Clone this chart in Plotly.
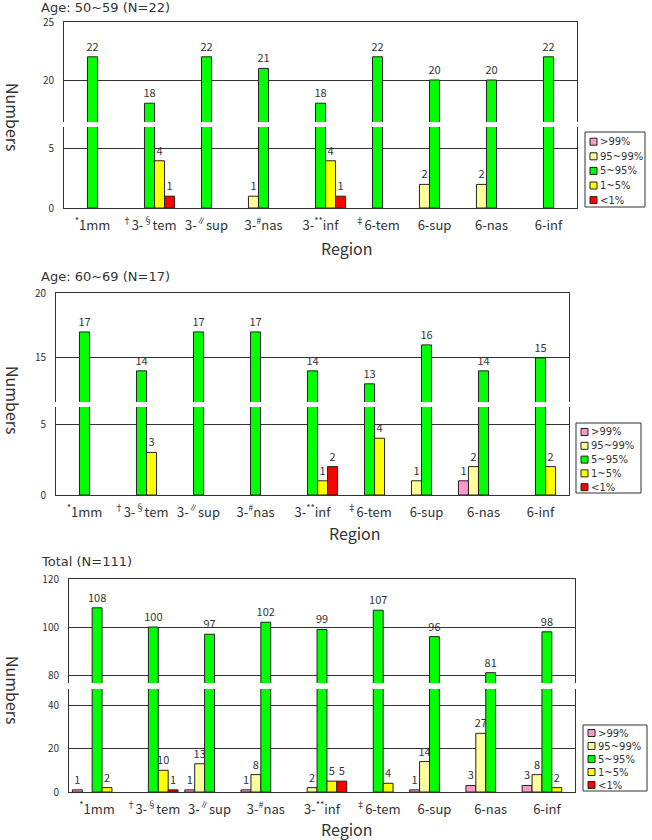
import plotly.graph_objects as go

W, H = 652, 840

# ---------------- data ----------------
categories = ["1mm", "3-tem", "3-sup", "3-nas", "3-inf", "6-tem", "6-sup", "6-nas", "6-inf"]
tick_labels = ["<sup>*</sup>1mm", "<sup>†</sup>3-<sup>§</sup>tem", "3-<sup>∥</sup>sup",
               "3-<sup>#</sup>nas", "3-<sup>**</sup>inf", "<sup>‡</sup>6-tem",
               "6-sup", "6-nas", "6-inf"]
series_names = ["&gt;99%", "95~99%", "5~95%", "1~5%", "&lt;1%"]
series_colors = ["#FF99CC", "#FFFF99", "#00FF00", "#FFFF00", "#FF0000"]

age50_gt99 = [0, 0, 0, 0, 0, 0, 0, 0, 0]
age50_p95_99 = [0, 0, 0, 1, 0, 0, 2, 2, 0]
age50_p5_95 = [22, 18, 22, 21, 18, 22, 20, 20, 22]
age50_p1_5 = [0, 4, 0, 0, 4, 0, 0, 0, 0]
age50_lt1 = [0, 1, 0, 0, 1, 0, 0, 0, 0]

age60_gt99 = [0, 0, 0, 0, 0, 0, 0, 1, 0]
age60_p95_99 = [0, 0, 0, 0, 0, 0, 1, 2, 0]
age60_p5_95 = [17, 14, 17, 17, 14, 13, 16, 14, 15]
age60_p1_5 = [0, 3, 0, 0, 1, 4, 0, 0, 2]
age60_lt1 = [0, 0, 0, 0, 2, 0, 0, 0, 0]

total_gt99 = [1, 0, 1, 1, 0, 0, 1, 3, 3]
total_p95_99 = [0, 0, 13, 8, 2, 0, 14, 27, 8]
total_p5_95 = [108, 100, 97, 102, 99, 107, 96, 81, 98]
total_p1_5 = [2, 10, 0, 0, 5, 4, 0, 0, 2]
total_lt1 = [0, 1, 0, 0, 5, 0, 0, 0, 0]

panel_titles = ["Age: 50~59 (N=22)", "Age: 60~69 (N=17)", "Total (N=111)"]

panels = [
    dict(series=[age50_gt99, age50_p95_99, age50_p5_95, age50_p1_5, age50_lt1],
         title=panel_titles[0], title_y=8,
         x0=64, x1=577, top=(22, 122), bot=(127, 208),
         top_range=[16.38, 25], bot_range=[0, 6.86], dtick=5,
         legend=dict(box=(585, 132, 645, 207), first=141.7, step=14.6),
         numbers_y=117, region=(347, 248)),
    dict(series=[age60_gt99, age60_p95_99, age60_p5_95, age60_p1_5, age60_lt1],
         title=panel_titles[1], title_y=277,
         x0=56, x1=569, top=(293, 402), bot=(407, 495),
         top_range=[11.6, 20], bot_range=[0, 6.2], dtick=5,
         legend=dict(box=(576, 423, 641, 493), first=432, step=13.8),
         numbers_y=400, region=(355, 533)),
    dict(series=[total_gt99, total_p95_99, total_p5_95, total_p1_5, total_lt1],
         title=panel_titles[2], title_y=561,
         x0=69, x1=575, top=(579, 683), bot=(689, 792),
         top_range=[76.7, 120], bot_range=[0, 47.4], dtick=20,
         legend=dict(box=(583, 725, 647, 791), first=733, step=13),
         numbers_y=690, region=(347, 829)),
]

FONT = "Noto Sans CJK KR, DejaVu Sans, sans-serif"
WIDE = "DejaVu Sans, sans-serif"
LINE = "#333333"


def ax(n):
    return "" if n == 1 else str(n)


def px(x):
    return x / W


def py(y):
    return 1 - y / H


fig = go.Figure()
layout = dict(
    width=W, height=H, margin=dict(l=0, r=0, t=0, b=0, autoexpand=False),
    paper_bgcolor="white", plot_bgcolor="white",
    barmode="group", bargap=0.12, bargroupgap=0,
    font=dict(family=FONT, color=LINE, size=12),
    showlegend=False,
    annotations=[], shapes=[],
)

for i, p in enumerate(panels):
    xb, xt = 2 * i + 1, 2 * i + 2
    bot_max = p["bot_range"][1]
    for s, vals in enumerate(p["series"]):
        common = dict(
            x=categories, name=series_names[s],
            marker=dict(color=series_colors[s], line=dict(color="#222222", width=1)),
            textposition="outside", constraintext="none",
            textfont=dict(size=11, color=LINE, family=FONT),
            hoverinfo="skip", showlegend=False,
        )
        # lower segment of the broken axis: bars, labelled when their top lies here
        fig.add_trace(go.Bar(
            **common, xaxis=f"x{ax(xb)}", yaxis=f"y{ax(xb)}",
            y=[v if v else None for v in vals],
            text=[str(v) if v and v <= bot_max else None for v in vals],
        ))
        # upper segment: only bars that reach into it
        fig.add_trace(go.Bar(
            **common, xaxis=f"x{ax(xt)}", yaxis=f"y{ax(xt)}",
            y=[v if v and v > bot_max else None for v in vals],
            text=[str(v) if v and v > bot_max else None for v in vals],
        ))

    xdom = [px(p["x0"]), px(p["x1"])]
    layout[f"xaxis{ax(xb)}"] = dict(
        domain=xdom, anchor=f"y{ax(xb)}", type="category",
        tickvals=categories, ticktext=tick_labels, range=[-0.5, 8.5],
        showline=True, linecolor=LINE, linewidth=1, ticks="", showgrid=False,
        tickfont=dict(size=13, color=LINE), ticklabelstandoff=5,
    )
    layout[f"xaxis{ax(xt)}"] = dict(
        domain=xdom, anchor=f"y{ax(xt)}", type="category", matches=f"x{ax(xb)}",
        side="top", showline=True, linecolor=LINE, linewidth=1,
        showticklabels=False, ticks="", showgrid=False,
    )
    yaxis_common = dict(
        showline=True, mirror=True, linecolor=LINE, linewidth=1,
        showgrid=True, gridcolor=LINE, gridwidth=1, zeroline=False,
        ticks="", dtick=p["dtick"], tickfont=dict(size=10, color=LINE),
        ticklabelstandoff=7,
    )
    layout[f"yaxis{ax(xb)}"] = dict(
        **yaxis_common, anchor=f"x{ax(xb)}", range=p["bot_range"],
        domain=[py(p["bot"][1]), py(p["bot"][0])],
    )
    layout[f"yaxis{ax(xt)}"] = dict(
        **yaxis_common, anchor=f"x{ax(xt)}", range=p["top_range"],
        domain=[py(p["top"][1]), py(p["top"][0])],
    )

    # legend key: bordered box with colour swatches and real text
    bx0, by0, bx1, by1 = p["legend"]["box"]
    layout["shapes"].append(dict(
        type="rect", xref="paper", yref="paper",
        x0=px(bx0), x1=px(bx1), y0=py(by1), y1=py(by0),
        line=dict(color=LINE, width=1), fillcolor="white", layer="above",
    ))
    for s, name in enumerate(series_names):
        cy = p["legend"]["first"] + s * p["legend"]["step"]
        layout["shapes"].append(dict(
            type="rect", xref="paper", yref="paper",
            x0=px(bx0 + 5), x1=px(bx0 + 12), y0=py(cy + 3.5), y1=py(cy - 3.5),
            line=dict(color="#222222", width=1), fillcolor=series_colors[s], layer="above",
        ))
        layout["annotations"].append(dict(
            text=name, x=px(bx0 + 14), y=py(cy), xref="paper", yref="paper",
            xanchor="left", yanchor="middle", showarrow=False, borderpad=0,
            font=dict(size=10, color=LINE, family=WIDE),
        ))

    layout["annotations"] += [
        dict(text=p["title"], x=px(40), y=py(p["title_y"]), xref="paper", yref="paper",
             xanchor="left", yanchor="middle", showarrow=False, borderpad=0,
             font=dict(size=13, color=LINE, family=WIDE)),
        dict(text="Numbers", x=px(13), y=py(p["numbers_y"]), xref="paper", yref="paper",
             xanchor="center", yanchor="middle", showarrow=False, textangle=90,
             font=dict(size=16, color=LINE)),
        dict(text="Region", x=px(p["region"][0]), y=py(p["region"][1]),
             xref="paper", yref="paper", xanchor="center", yanchor="middle",
             showarrow=False, font=dict(size=16, color=LINE)),
    ]

fig.update_layout(**layout)
fig.write_html("out.html")
